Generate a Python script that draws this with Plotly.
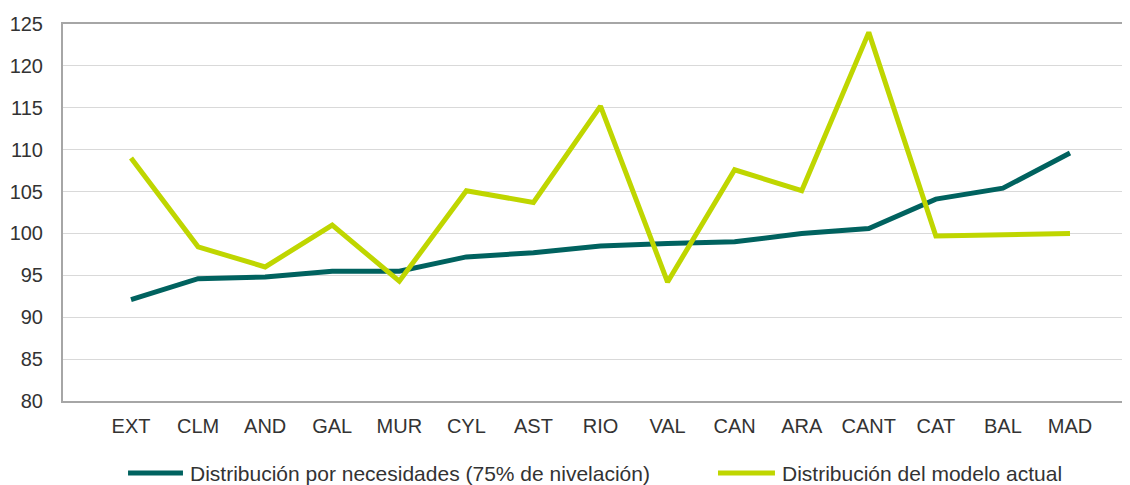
import plotly.graph_objects as go

# datos
regiones = ["EXT", "CLM", "AND", "GAL", "MUR", "CYL", "AST", "RIO",
            "VAL", "CAN", "ARA", "CANT", "CAT", "BAL", "MAD"]
necesidades = [92.1, 94.6, 94.8, 95.5, 95.5, 97.2, 97.7, 98.5,
               98.8, 99.0, 100.0, 100.6, 104.1, 105.4, 109.6]
modelo_actual = [109.0, 98.4, 96.0, 101.0, 94.3, 105.1, 103.7, 115.2,
                 94.2, 107.6, 105.1, 124.0, 99.7, 99.9, 100.0]
y_ticks = [80, 85, 90, 95, 100, 105, 110, 115, 120, 125]
series_nombres = ["Distribución por necesidades (75% de nivelación)",
                  "Distribución del modelo actual"]

TEAL = "#00625F"
LIMA = "#BFD600"
TEXTO = "#333333"
FUENTE = "Liberation Sans, Arial, sans-serif"

fig = go.Figure()

for nombre, valores, color in zip(series_nombres, [necesidades, modelo_actual], [TEAL, LIMA]):
    fig.add_trace(
        go.Scatter(
            x=regiones,
            y=valores,
            mode="lines",
            name=nombre,
            line={"color": color, "width": 5},
            showlegend=False,
        )
    )

# leyenda manual (línea larga como en el original)
leyenda_x = [(0.0605, 0.1116, 0.1163), (0.6093, 0.6623, 0.6670)]
for (x0, x1, xt), nombre, color in zip(leyenda_x, series_nombres, [TEAL, LIMA]):
    fig.add_shape(
        type="line", xref="paper", yref="paper",
        x0=x0, x1=x1, y0=-0.191, y1=-0.191,
        line={"color": color, "width": 5},
    )
    fig.add_annotation(
        xref="paper", yref="paper", x=xt, y=-0.191,
        xanchor="left", yanchor="middle", showarrow=False,
        text=nombre, font={"size": 21, "color": TEXTO, "family": FUENTE},
    )

# la página añade 8 px de margen al body: se compensa aquí
fig.update_layout(
    width=1130,
    height=485,
    margin={"l": 55, "r": 0, "t": 16, "b": 92, "pad": 0, "autoexpand": False},
    plot_bgcolor="white",
    paper_bgcolor="white",
    font={"family": FUENTE, "size": 20, "color": TEXTO},
    showlegend=False,
)

fig.update_xaxes(
    type="category",
    range=[-1.014, 15.014],
    showgrid=False,
    showline=True,
    linecolor="#A6A6A6",
    linewidth=2,
    mirror=True,
    ticks="",
    ticklabelstandoff=6,
)

fig.update_yaxes(
    range=[80, 125],
    tickvals=y_ticks,
    showgrid=True,
    gridcolor="#D9D9D9",
    gridwidth=1,
    showline=True,
    linecolor="#A6A6A6",
    linewidth=2,
    zeroline=False,
    ticks="",
    ticklabelstandoff=14,
)

fig.write_html("out.html")
